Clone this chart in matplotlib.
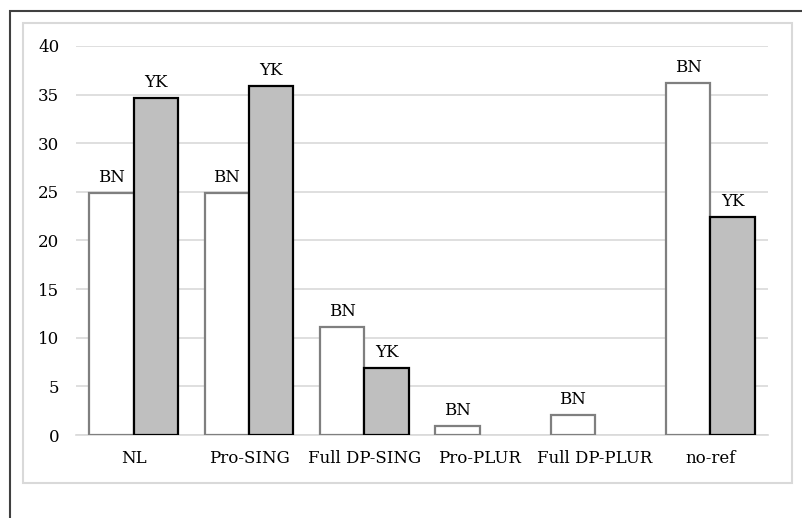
import matplotlib
matplotlib.use("Agg")
import matplotlib.pyplot as plt
from matplotlib.patches import Rectangle
import numpy as np

categories = ["NL", "Pro-SING", "Full DP-SING", "Pro-PLUR", "Full DP-PLUR", "no-ref"]
bn_values = [24.9, 24.9, 11.1, 0.9, 2.1, 36.2]
yk_values = [34.7, 35.9, 6.9, 0.0, 0.0, 22.4]
bn_label = "BN"
yk_label = "YK"
yticks = [0, 5, 10, 15, 20, 25, 30, 35, 40]

plt.rcParams['font.family'] = ['DejaVu Serif']

W, H = 802, 518
fig = plt.figure(figsize=(W / 100, H / 100), dpi=100)

# outer border (extends beyond right/bottom of image)
fig.patches.append(Rectangle((10 / W, -0.1), 1.2, 1 - 11 / H + 0.1, transform=fig.transFigure,
                             fill=False, edgecolor="#404040", linewidth=1.5))
# inner light frame
fig.patches.append(Rectangle((23 / W, 1 - 483 / H), (792 - 23) / W, (483 - 23) / H,
                             transform=fig.transFigure, fill=False, edgecolor="#d9d9d9",
                             linewidth=1.5))

ax = fig.add_axes([76 / W, 1 - 435 / H, (768 - 76) / W, (435 - 46) / H])
x = np.arange(len(categories))
w = 0.385
bn_edges = ["#7f7f7f" if v > 0 else "none" for v in bn_values]
yk_edges = ["black" if v > 0 else "none" for v in yk_values]
ax.bar(x - w / 2, bn_values, w, color="white", edgecolor=bn_edges, linewidth=1.6, zorder=3)
ax.bar(x + w / 2, yk_values, w, color="#bfbfbf", edgecolor=yk_edges, linewidth=1.6, zorder=3)

for i in range(len(categories)):
    if bn_values[i] > 0:
        ax.text(x[i] - w / 2, bn_values[i] + 0.7, bn_label, ha="center", va="bottom", fontsize=12)
    if yk_values[i] > 0:
        ax.text(x[i] + w / 2, yk_values[i] + 0.7, yk_label, ha="center", va="bottom", fontsize=12)

ax.set_xlim(-0.5, len(categories) - 0.5)
ax.set_ylim(0, 40)
ax.set_yticks(yticks)
ax.set_xticks(x)
ax.set_xticklabels(categories)
ax.tick_params(axis="both", length=0, labelsize=12)
ax.tick_params(axis="y", pad=12)
ax.tick_params(axis="x", pad=11)
ax.grid(axis="y", color="#d9d9d9", linewidth=1.2, zorder=0)
for s in ["top", "right", "left"]:
    ax.spines[s].set_visible(False)
ax.spines["bottom"].set_color("#d9d9d9")
ax.spines["bottom"].set_linewidth(1.2)

fig.savefig("out.png", dpi=100)
